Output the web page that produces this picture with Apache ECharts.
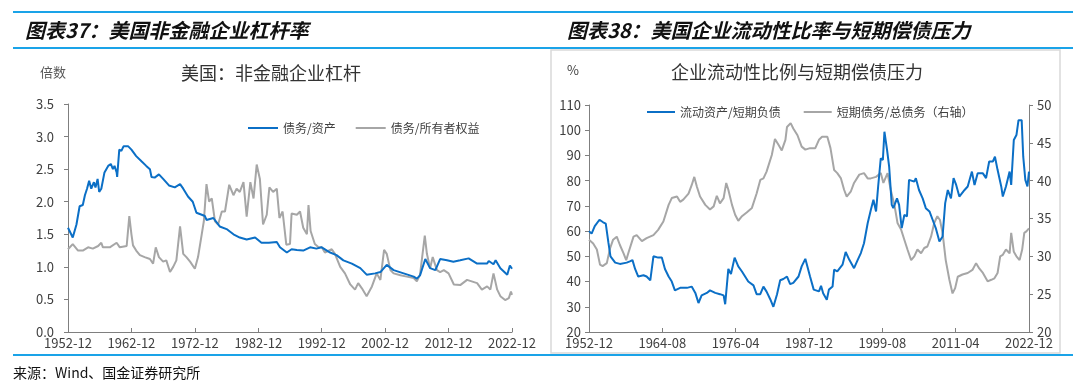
<!DOCTYPE html>
<html><head><meta charset="utf-8">
<script src="https://cdn.jsdelivr.net/npm/echarts@6/dist/echarts.min.js"></script>
<style>html,body{margin:0;padding:0;background:#fff;}#c{width:1080px;height:387px;}</style>
</head><body><div id="c"></div>
<script>
// ---------- Left chart: 美国非金融企业杠杆 (x = months since 1952-12) ----------
const levAssetX = [0,9,16,22,28,32,36,40,44,49,52,56,59,63,69,76,81,85,88,92,93,97,101,105,114,120,129,139,148,155,158,164,172,180,191,202,212,218,227,236,243,253,259,262,275,287,300,313,325,338,354,366,380,395,401,414,423,433,445,458,470,480,496,508,521,537,553,565,581,591,603,616,635,654,660,666,676,685,695,704,717,729,742,758,774,793,796,805,809,818,831,836,840];
const levAssetY = [1.6,1.45,1.65,1.93,1.95,2.1,2.2,2.32,2.2,2.3,2.22,2.35,2.15,2.2,2.45,2.55,2.58,2.5,2.55,2.45,2.38,2.8,2.78,2.85,2.85,2.8,2.7,2.62,2.55,2.5,2.38,2.37,2.42,2.35,2.25,2.22,2.27,2.2,2.08,2.0,1.83,1.8,1.78,1.72,1.75,1.62,1.58,1.5,1.45,1.42,1.45,1.37,1.37,1.38,1.3,1.22,1.27,1.26,1.25,1.3,1.28,1.3,1.22,1.18,1.1,1.05,0.98,0.88,0.9,0.92,1.03,0.95,0.9,0.85,0.82,0.87,1.12,0.98,0.95,1.12,1.1,1.08,1.1,1.13,1.05,1.05,1.09,1.04,1.1,0.98,0.88,1.02,0.97];
const levEquityX = [0,9,19,28,38,47,57,63,66,79,92,98,111,116,120,123,129,136,145,155,161,166,172,180,186,193,199,205,212,218,224,231,240,246,253,257,262,267,272,278,284,291,297,305,313,319,325,332,338,345,351,357,363,369,376,381,388,395,400,406,413,420,423,433,439,445,452,455,459,467,474,480,486,499,505,515,524,534,543,549,556,565,575,584,591,598,603,610,616,629,641,654,660,666,675,679,685,690,698,704,711,720,730,742,755,774,783,793,799,805,812,818,827,834,838,840];
const levEquityY = [1.27,1.35,1.25,1.25,1.3,1.28,1.32,1.37,1.3,1.3,1.37,1.3,1.32,1.78,1.5,1.33,1.25,1.18,1.15,1.12,1.05,1.3,1.15,1.08,1.1,0.92,1.0,1.1,1.62,1.2,1.15,1.08,0.97,1.15,1.5,1.7,2.27,2.0,2.05,1.7,1.65,1.85,1.85,2.26,2.1,2.2,2.15,2.3,1.77,2.3,2.05,2.57,2.35,1.65,1.8,2.22,2.15,2.2,1.75,1.85,1.34,1.35,1.82,1.8,1.85,1.6,1.5,1.95,1.55,1.35,1.3,1.3,1.22,1.27,1.2,1.0,0.9,0.73,0.65,0.75,0.67,0.55,0.7,0.9,0.8,1.26,1.2,0.95,0.9,0.87,0.85,0.83,0.78,0.88,1.48,1.2,0.98,1.15,0.95,0.92,0.95,0.9,0.73,0.72,0.8,0.75,0.65,0.7,0.65,0.9,0.65,0.55,0.49,0.52,0.62,0.57];

// ---------- Right chart: 企业流动性比例与短期偿债压力 (x = months since 1952-12) ----------
const liqX = [0,5,11,20,27,32,37,41,50,59,72,78,83,88,94,104,110,117,123,132,139,145,152,158,164,174,187,196,203,209,215,225,231,241,250,257,260,266,271,278,285,292,298,304,314,320,327,333,339,346,352,359,365,371,378,384,390,400,406,413,416,422,429,439,443,447,454,458,465,468,474,484,490,497,506,513,519,525,532,538,543,548,552,557,561,564,569,573,578,581,588,592,597,602,607,611,621,624,630,637,643,650,656,662,669,675,680,685,691,696,701,707,717,723,731,736,742,752,758,764,771,775,780,787,790,796,803,806,811,816,820,826,829,833,837,840];
const liqY = [60,59,62,64.5,63.5,63,55.5,50,47.5,47,47.5,48,48.5,45,42,42.5,42,40.5,50,49.5,49.5,45,42,40,36.5,37.5,37.5,38,35.5,31.5,34.5,35.5,36.5,35.5,35,34.5,31,45,43,49.5,46,44,42,40,38.5,35,35,38,36,33,30,35,40.5,41,42,39,39.5,42,46,49,49,42,36.8,36.1,38.3,35.4,32.8,36.8,38,44.7,44,46.7,51.7,48.6,45.3,48.6,51.3,55.2,63.1,68.4,72.4,67.8,77.7,88.9,88.2,99.4,92.2,85.6,70.4,69.1,73,70.4,61.2,66.4,65.8,80.3,79.6,81,76.3,73,69.1,67.8,64.5,61.2,55.9,57.9,71.1,76.3,73,81,78.3,73.7,76.3,77.7,83.6,78.3,82.9,82.9,81,87.6,87.6,89.5,84.3,77.7,73.7,77.7,83.6,78.3,96.1,98.1,104,104,89.5,80.3,77.7,83.6];
const stDebtX = [0,8,15,21,26,34,40,46,53,59,66,71,75,85,91,101,110,123,132,142,152,158,168,174,180,190,196,201,206,212,222,231,238,244,250,257,262,266,273,279,285,292,301,311,320,327,333,339,349,355,362,368,375,378,385,390,398,406,413,422,432,439,445,455,461,468,474,481,487,492,500,506,516,525,532,538,548,557,562,570,576,583,589,596,602,608,615,621,627,634,640,646,653,659,665,670,675,681,688,694,699,704,713,723,732,739,745,752,761,768,774,780,785,790,796,803,806,811,816,822,827,831,835,840];
const stDebtY = [32.2,31.7,30.9,28.9,28.7,29.1,31,32.2,32.6,31.5,30.4,29.5,30.4,32.6,32.8,32,32.4,32.8,33.5,34.6,36.8,37.7,37.9,37.2,37.5,38.3,39.4,40.5,39.2,37.9,36.8,36.2,36.6,38,37,37.7,39.7,38.8,36.8,35.5,34.7,35.3,35.8,36.4,38.3,40.1,40.3,41.2,43.4,45.5,44.7,44,45.4,47.1,47.6,46.9,46,44.5,44.1,44.3,44.3,45.4,45.8,45.8,44.3,41.4,41,40.3,38.8,37.9,38.6,39.7,40.8,41,40.3,40.3,40.5,41,39.7,41,38.8,36.8,34.4,33.5,32.2,30.9,29.5,30,30.9,30.4,31.1,31.3,32.6,34.4,35.3,34.8,33.1,29.5,26.9,25.1,25.8,27.3,27.6,27.8,28.2,29.1,28.4,27.8,26.7,26.9,27.1,27.8,30,30.2,30.9,30.4,33.1,30.6,30,29.5,30.9,33.1,33.3,33.7];

const seriesNames = ['债务/资产','债务/所有者权益','流动资产/短期负债','短期债务/总债务（右轴）'];
const BLUE = '#0B6FC6', GRAY = '#A6A6A6', CYAN = '#1AA3E8';
const CJK = '"Noto Sans CJK SC", sans-serif';

function zip(xs, ys){ const n=Math.min(xs.length, ys.length); const out=[]; for(let i=0;i<n;i++) out.push([xs[i], ys[i]]); return out; }
function ymLabel(v){ const t = 1952*12 + 11 + Math.round(v); const y = Math.floor(t/12); const m = t%12 + 1; return y + '-' + (m<10?'0':'') + m; }

const axisLineStyle = {color:'#7F7F7F', width:1};
const labelStyle = {color:'#404040', fontSize:13, fontFamily:CJK};
const legendText = {color:'#404040', fontSize:12, fontFamily:CJK};

const chart = echarts.init(document.getElementById('c'), null, {renderer:'canvas'});
chart.setOption({
  backgroundColor:'#fff',
  animation:false,
  grid:[
    {left:68, right:568, top:104, bottom:55},
    {left:589, right:51, top:105, bottom:55}
  ],
  xAxis:[
    {gridIndex:0, type:'value', min:0, max:840, interval:120, splitLine:{show:false},
     axisLine:{lineStyle:axisLineStyle}, axisTick:{inside:true, length:4, lineStyle:axisLineStyle},
     axisLabel:Object.assign({margin:5, formatter:ymLabel, showMaxLabel:true}, labelStyle)},
    {gridIndex:1, type:'value', min:0, max:840, interval:140, splitLine:{show:false},
     axisLine:{lineStyle:axisLineStyle}, axisTick:{inside:true, length:4, lineStyle:axisLineStyle},
     axisLabel:Object.assign({margin:5, formatter:ymLabel, showMaxLabel:true}, labelStyle)}
  ],
  yAxis:[
    {gridIndex:0, type:'value', min:0, max:3.5, interval:0.5, splitLine:{show:false},
     axisLine:{show:true, lineStyle:axisLineStyle}, axisTick:{show:true, length:4, lineStyle:axisLineStyle},
     axisLabel:Object.assign({margin:14, formatter:function(v){return v.toFixed(1);}}, labelStyle)},
    {gridIndex:1, type:'value', min:20, max:110, interval:10, splitLine:{show:false},
     axisLine:{show:true, lineStyle:axisLineStyle}, axisTick:{show:true, length:4, lineStyle:axisLineStyle},
     axisLabel:Object.assign({margin:8}, labelStyle)},
    {gridIndex:1, type:'value', position:'right', min:20, max:50, interval:5, splitLine:{show:false},
     axisLine:{show:true, lineStyle:axisLineStyle}, axisTick:{show:true, length:4, lineStyle:axisLineStyle},
     axisLabel:Object.assign({margin:8}, labelStyle)}
  ],
  legend:[
    {data:[{name:seriesNames[0], icon:'rect'},{name:seriesNames[1], icon:'rect'}], left:243, top:117, itemWidth:30, itemHeight:2, itemGap:20,
     textStyle:legendText},
    {data:[{name:seriesNames[2], icon:'rect'},{name:seriesNames[3], icon:'rect'}], left:642, top:101, itemWidth:28, itemHeight:2, itemGap:23,
     textStyle:legendText}
  ],
  series:[
    {name:seriesNames[0], type:'line', xAxisIndex:0, yAxisIndex:0, data:zip(levAssetX, levAssetY), symbol:'none', z:4,
     lineStyle:{color:BLUE, width:2}, itemStyle:{color:BLUE}},
    {name:seriesNames[1], type:'line', xAxisIndex:0, yAxisIndex:0, data:zip(levEquityX, levEquityY), symbol:'none', z:3,
     lineStyle:{color:GRAY, width:2}, itemStyle:{color:GRAY}},
    {name:seriesNames[2], type:'line', xAxisIndex:1, yAxisIndex:1, data:zip(liqX, liqY), symbol:'none', z:4,
     lineStyle:{color:BLUE, width:2}, itemStyle:{color:BLUE}},
    {name:seriesNames[3], type:'line', xAxisIndex:1, yAxisIndex:2, data:zip(stDebtX, stDebtY), symbol:'none', z:3,
     lineStyle:{color:GRAY, width:2}, itemStyle:{color:GRAY}}
  ],
  graphic:[
    {type:'line', shape:{x1:13,y1:12,x2:1073,y2:12}, style:{stroke:CYAN, lineWidth:2}},
    {type:'line', shape:{x1:13,y1:48,x2:1073,y2:48}, style:{stroke:CYAN, lineWidth:2}},
    {type:'line', shape:{x1:13,y1:355,x2:1073,y2:355}, style:{stroke:CYAN, lineWidth:2}},
    {type:'rect', shape:{x:551,y:50,width:509,height:303}, style:{fill:'none', stroke:'#D9D9D9', lineWidth:1.5}},
    {type:'text', style:{x:25, y:30, text:'图表37：美国非金融企业杠杆率', fill:'#111', verticalAlign:'middle',
      font:'italic bold 20px "Noto Sans CJK SC", sans-serif'}},
    {type:'text', style:{x:567, y:30, text:'图表38：美国企业流动性比率与短期偿债压力', fill:'#111', verticalAlign:'middle',
      font:'italic bold 20px "Noto Sans CJK SC", sans-serif'}},
    {type:'text', style:{x:40, y:72, text:'倍数', fill:'#595959', verticalAlign:'middle', font:'13px "Noto Sans CJK SC", sans-serif'}},
    {type:'text', style:{x:271, y:73, text:'美国：非金融企业杠杆', fill:'#333', align:'center', verticalAlign:'middle', font:'18px "Noto Sans CJK SC", sans-serif'}},
    {type:'text', style:{x:567, y:70, text:'%', fill:'#404040', verticalAlign:'middle', font:'13px "Noto Sans CJK SC", sans-serif'}},
    {type:'text', style:{x:797, y:72, text:'企业流动性比例与短期偿债压力', fill:'#333', align:'center', verticalAlign:'middle', font:'18px "Noto Sans CJK SC", sans-serif'}},
    {type:'text', style:{x:13, y:373, text:'来源：Wind、国金证券研究所', fill:'#111', verticalAlign:'middle', font:'14px "Noto Sans CJK SC", sans-serif'}}
  ]
});
</script></body></html>
